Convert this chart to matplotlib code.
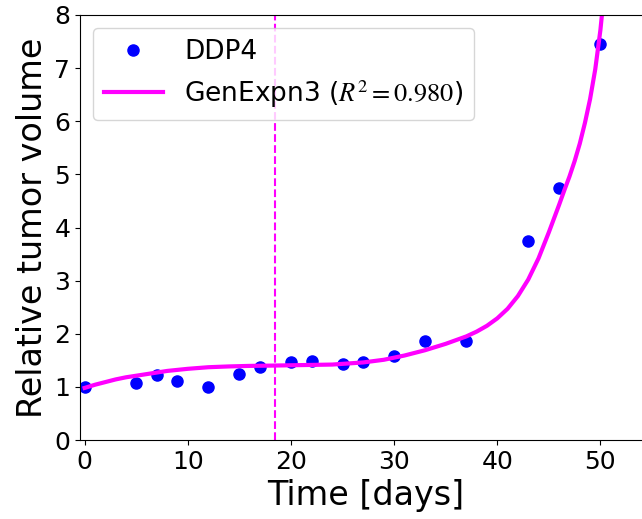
import numpy as np
import matplotlib
matplotlib.use('Agg')
import matplotlib.pyplot as plt

plt.rcParams['mathtext.fontset'] = 'stix'

# -------------------------------------
# Data
# -------------------------------------

# measured relative tumor volume (DDP4)
days = [0, 5, 7, 9, 12, 15, 17, 20, 22, 25, 27, 30, 33, 37, 43, 46, 50]
volume = [1.00, 1.07, 1.22, 1.12, 1.00, 1.24, 1.38, 1.47, 1.49, 1.44,
          1.47, 1.58, 1.87, 1.87, 3.75, 4.74, 7.46]

# GenExpn3 fitted curve
fit_days = [0, 1, 2, 3, 4, 5, 6, 7, 8, 10, 12, 14, 16, 18, 21, 24, 27,
            29, 31, 33, 35, 37, 38, 39, 40, 41, 42, 43, 44, 45, 46, 46.5,
            47, 47.5, 48, 48.5, 49, 49.5, 50, 50.3]
fit_volume = [0.98, 1.04, 1.09, 1.14, 1.18, 1.21, 1.24, 1.27, 1.30, 1.34,
              1.37, 1.385, 1.395, 1.40, 1.41, 1.42, 1.46, 1.51, 1.59, 1.69,
              1.81, 1.95, 2.04, 2.15, 2.29, 2.47, 2.71, 3.02, 3.42, 3.91,
              4.43, 4.70, 4.96, 5.25, 5.58, 5.97, 6.42, 6.98, 7.72, 8.3]

r2 = 0.980
t_mark = 18.47  # dashed vertical line

# -------------------------------------
# Plot
# -------------------------------------

fig = plt.figure(figsize=(6.42, 5.19), dpi=100)
# axes runs past the right edge of the figure, as in the reference
ax = fig.add_axes([80 / 642, 79 / 519, 572 / 642, 425 / 519])

ax.plot(days, volume, 'o', color='blue', markersize=8, label='DDP4')
ax.plot(fit_days, fit_volume, '-', color='magenta', linewidth=3,
        label='GenExpn3 ($R^2=%.3f$)' % r2)
ax.axvline(t_mark, color='magenta', linestyle='--', linewidth=1.5)

ax.set_xlim(-0.45, 55.0)
ax.set_ylim(0, 8)
ax.set_xticks(np.arange(0, 51, 10))
ax.set_yticks(np.arange(0, 9, 1))
ax.tick_params(labelsize=18)

ax.set_xlabel('Time [days]', fontsize=24)
ax.set_ylabel('Relative tumor volume', fontsize=24)

ax.legend(loc='upper left', fontsize=19, handlelength=2.25)

fig.savefig('out.png', dpi=100)
